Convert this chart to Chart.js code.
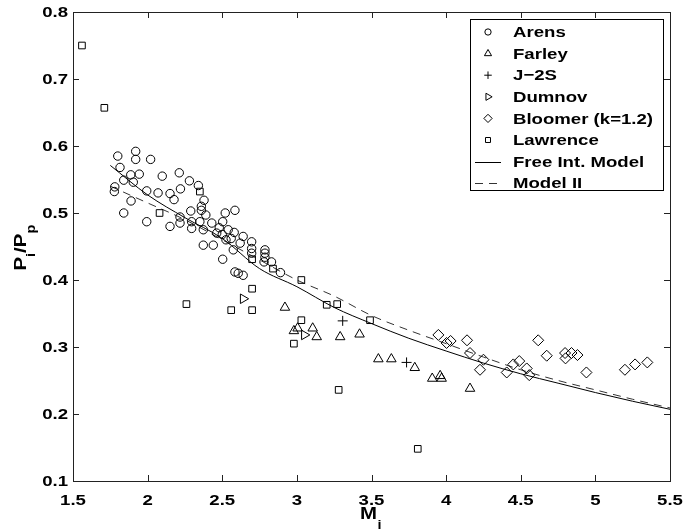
<!DOCTYPE html>
<html>
<head>
<meta charset="utf-8">
<script src="https://cdn.jsdelivr.net/npm/chart.js@4.4.1/dist/chart.umd.min.js"></script>
<style>
  html, body { margin: 0; padding: 0; background: #fff; }
  #wrap { width: 686px; height: 532px; }
</style>
</head>
<body>
<div id="wrap"><canvas id="myChart" width="686" height="532"></canvas></div>
<script>
const arensM = [1.80, 1.92, 1.92, 2.02, 1.815, 1.887, 1.944, 1.84, 1.904, 1.78, 1.777, 2.098, 2.212, 2.28, 2.34,
  1.994, 2.07, 2.15, 2.22, 2.177, 1.889, 2.378, 2.36, 1.84, 1.994, 2.15, 2.217, 2.217, 2.289, 2.295, 2.295,
  2.373, 2.35, 2.39, 2.36, 2.373, 2.43, 2.44, 2.463, 2.503, 2.52, 2.585, 2.503, 2.525, 2.54, 2.58, 2.574,
  2.585, 2.607, 2.64, 2.62, 2.64, 2.697, 2.697, 2.697, 2.786, 2.786, 2.786, 2.78, 2.83, 2.89, 2.48, 2.56, 2.50];
const arensP = [0.585, 0.592, 0.580, 0.580, 0.568, 0.557, 0.558, 0.549, 0.546, 0.539, 0.532, 0.555, 0.560, 0.548, 0.541,
  0.533, 0.530, 0.529, 0.536, 0.520, 0.518, 0.519, 0.510, 0.500, 0.487, 0.480, 0.494, 0.485, 0.503, 0.487, 0.477,
  0.452, 0.487, 0.497, 0.504, 0.475, 0.485, 0.452, 0.470, 0.487, 0.500, 0.504, 0.431, 0.460, 0.475, 0.471, 0.445,
  0.412, 0.410, 0.407, 0.455, 0.465, 0.457, 0.447, 0.440, 0.445, 0.440, 0.434, 0.427, 0.427, 0.411, 0.478, 0.462, 0.468];

const farleyM = [2.92, 2.98, 3.005, 3.106, 3.133, 3.29, 3.42, 3.546, 3.633, 3.79, 3.907, 3.96, 3.97, 4.16];
const farleyP = [0.359, 0.324, 0.328, 0.328, 0.315, 0.315, 0.319, 0.282, 0.282, 0.269, 0.253, 0.257, 0.253, 0.238];

const j2sM = [3.307, 3.735];
const j2sP = [0.339, 0.277];

const dumnovM = [2.64, 3.05];
const dumnovP = [0.372, 0.318];

const bloomerM = [3.948, 4.003, 4.03, 4.14, 4.16, 4.25, 4.227, 4.406, 4.45, 4.49, 4.54, 4.557, 4.617, 4.674,
  4.797, 4.80, 4.84, 4.88, 4.94, 5.198, 5.266, 5.348];
const bloomerP = [0.318, 0.306, 0.309, 0.310, 0.291, 0.281, 0.266, 0.262, 0.274, 0.279, 0.268, 0.258, 0.310, 0.287,
  0.291, 0.283, 0.291, 0.288, 0.262, 0.266, 0.274, 0.277];

const lawrenceM = [1.56, 1.71, 2.08, 2.35, 2.26, 2.56, 2.70, 2.70, 2.70, 2.84, 3.03, 3.03, 2.98, 3.20, 3.27, 3.28, 3.49, 3.81];
const lawrenceP = [0.750, 0.657, 0.500, 0.532, 0.364, 0.355, 0.387, 0.355, 0.431, 0.417, 0.400, 0.340, 0.305, 0.363, 0.364, 0.236, 0.340, 0.148];

// model curves
const freeM = [1.75, 2.0, 2.25, 2.5, 2.75, 3.0, 3.25, 3.5, 3.75, 4.0, 4.25, 4.5, 4.75, 5.0, 5.25, 5.5];
const freeP = [0.571, 0.527, 0.493, 0.462, 0.417, 0.390, 0.359, 0.335, 0.313, 0.294, 0.276, 0.260, 0.246, 0.232, 0.219, 0.207];
const model2M = [1.75, 2.0, 2.25, 2.5, 2.75, 3.0, 3.25, 3.5, 3.75, 4.0, 4.25, 4.5, 4.75, 5.0, 5.25, 5.5];
const model2P = [0.540, 0.515, 0.490, 0.460, 0.430, 0.400, 0.376, 0.347, 0.325, 0.305, 0.285, 0.266, 0.250, 0.236, 0.222, 0.209];

const xTicks = [1.5, 2, 2.5, 3, 3.5, 4, 4.5, 5, 5.5];
const yTicks = [0.1, 0.2, 0.3, 0.4, 0.5, 0.6, 0.7, 0.8];

function pts(xs, ys) { return xs.map((x, i) => ({ x: x, y: ys[i] })); }

const FONT = "'Liberation Sans', Arial, sans-serif";

function stretchText(ctx, text, x, y, size, align, baseline) {
  ctx.save();
  ctx.font = 'bold ' + size + 'px ' + FONT;
  ctx.textAlign = align;
  ctx.textBaseline = baseline;
  ctx.translate(x, y);
  ctx.scale(1.2, 1);
  ctx.fillText(text, 0, 0);
  ctx.restore();
}

function scatterSet(label, xs, ys, style, radius, rotation) {
  return {
    type: 'scatter',
    label: label,
    data: pts(xs, ys),
    pointStyle: style,
    pointRadius: radius,
    pointRotation: rotation || 0,
    pointBorderColor: '#000',
    pointBackgroundColor: 'rgba(0,0,0,0)',
    pointBorderWidth: 1,
    showLine: false
  };
}

const frame = {
  id: 'frame',
  afterDraw(chart) {
    const ctx = chart.ctx;
    const a = chart.chartArea;
    const xs = chart.scales.x, ys = chart.scales.y;
    ctx.save();
    ctx.strokeStyle = '#222';
    ctx.lineWidth = 1;
    ctx.strokeRect(a.left + 0.5, a.top + 0.5, a.right - a.left, a.bottom - a.top);
    ctx.beginPath();
    xs.ticks.forEach(t => {
      const px = Math.round(xs.getPixelForValue(t.value)) + 0.5;
      ctx.moveTo(px, a.bottom); ctx.lineTo(px, a.bottom - 6);
      ctx.moveTo(px, a.top); ctx.lineTo(px, a.top + 6);
    });
    ys.ticks.forEach(t => {
      const py = Math.round(ys.getPixelForValue(t.value)) + 0.5;
      ctx.moveTo(a.left, py); ctx.lineTo(a.left + 6, py);
      ctx.moveTo(a.right, py); ctx.lineTo(a.right - 6, py);
    });
    ctx.stroke();

    ctx.fillStyle = '#000';
    xs.ticks.forEach(t => {
      stretchText(ctx, String(t.value), xs.getPixelForValue(t.value), a.bottom + 12, 15.5, 'center', 'top');
    });
    ys.ticks.forEach(t => {
      stretchText(ctx, t.value.toFixed(1), a.left - 5, ys.getPixelForValue(t.value) + 1, 15.5, 'right', 'middle');
    });

    // x title M_i
    const cx = (a.left + a.right) / 2;
    stretchText(ctx, 'M', cx - 3, a.bottom + 38, 17, 'center', 'alphabetic');
    stretchText(ctx, 'i', cx + 8, a.bottom + 48, 12, 'center', 'alphabetic');

    // y title P_i/P_p
    ctx.save();
    ctx.translate(26, (a.top + a.bottom) / 2 + 24);
    ctx.rotate(-Math.PI / 2);
    let x = 0;
    const parts = [['P', 17, 0], ['i', 12, 9], ['/P', 17, 0], ['p', 12, 9]];
    parts.forEach(p => {
      ctx.font = 'bold ' + p[1] + 'px ' + FONT;
      const w = ctx.measureText(p[0]).width * 1.2;
      stretchText(ctx, p[0], x, p[2], p[1], 'left', 'alphabetic');
      x += w;
    });
    ctx.restore();

    // legend
    const bx = 470, by = 19, bw = 193, bh = 171;
    ctx.fillStyle = '#fff';
    ctx.fillRect(bx, by, bw, bh);
    ctx.strokeStyle = '#000';
    ctx.strokeRect(bx + 0.5, by + 0.5, bw, bh);
    chart.data.datasets.forEach((ds, i) => {
      const ry = 32 + i * 21.6;
      ctx.strokeStyle = '#000';
      ctx.lineWidth = 1;
      if (ds.type === 'scatter') {
        ctx.fillStyle = 'rgba(0,0,0,0)';
        Chart.helpers.drawPoint(ctx, {
          pointStyle: ds.pointStyle,
          rotation: ds.pointRotation,
          radius: ds.pointRadius * 0.75,
          borderWidth: 1
        }, 488, ry);
      } else {
        ctx.strokeStyle = ds.borderColor;
        ctx.setLineDash(ds.borderDash || []);
        ctx.beginPath();
        ctx.moveTo(475, Math.round(ry) + 0.5);
        ctx.lineTo(501, Math.round(ry) + 0.5);
        ctx.stroke();
        ctx.setLineDash([]);
      }
      ctx.fillStyle = '#000';
      stretchText(ctx, ds.label, 513, ry + 1, 15.5, 'left', 'middle');
    });
    ctx.restore();
  }
};

const ctx = document.getElementById('myChart').getContext('2d');
const chart = new Chart(ctx, {
  data: {
    datasets: [
      scatterSet('Arens', arensM, arensP, 'circle', 4.2),
      scatterSet('Farley', farleyM, farleyP, 'triangle', 5.5),
      scatterSet('J\u22122S', j2sM, j2sP, 'cross', 5),
      scatterSet('Dumnov', dumnovM, dumnovP, 'triangle', 5.5, 90),
      scatterSet('Bloomer (k=1.2)', bloomerM, bloomerP, 'rectRot', 5.5),
      scatterSet('Lawrence', lawrenceM, lawrenceP, 'rect', 4.7),
      {
        type: 'line',
        label: 'Free Int. Model',
        data: pts(freeM, freeP),
        borderColor: '#000',
        borderWidth: 1,
        pointRadius: 0,
        cubicInterpolationMode: 'monotone'
      },
      {
        type: 'line',
        label: 'Model II',
        data: pts(model2M, model2P),
        borderColor: '#333',
        borderWidth: 1,
        borderDash: [8, 6],
        pointRadius: 0,
        cubicInterpolationMode: 'monotone'
      }
    ]
  },
  options: {
    responsive: false,
    animation: false,
    layout: { padding: { left: 73, top: 12, right: 16, bottom: 51 } },
    plugins: {
      legend: { display: false },
      tooltip: { enabled: false }
    },
    scales: {
      x: {
        type: 'linear',
        display: false,
        min: 1.5,
        max: 5.5,
        afterBuildTicks: s => { s.ticks = xTicks.map(v => ({ value: v })); }
      },
      y: {
        type: 'linear',
        display: false,
        min: 0.1,
        max: 0.8,
        afterBuildTicks: s => { s.ticks = yTicks.map(v => ({ value: v })); }
      }
    }
  },
  plugins: [frame]
});
</script>
</body>
</html>
